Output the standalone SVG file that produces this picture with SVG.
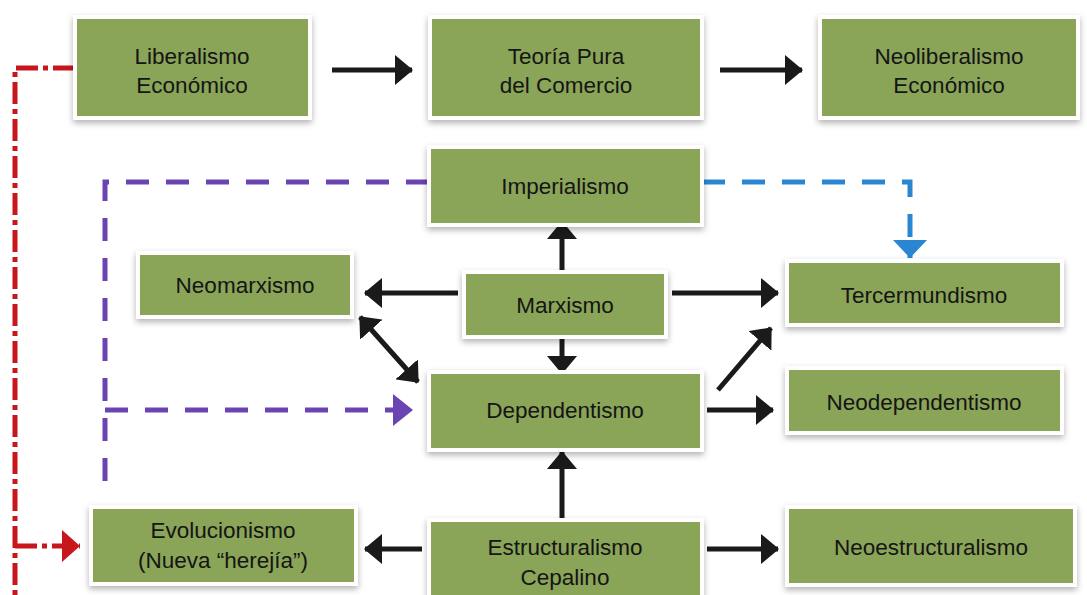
<svg xmlns="http://www.w3.org/2000/svg" width="1087" height="595" viewBox="0 0 1087 595">
<defs>
<style>
.box{fill:#8aa458;stroke:#ffffff;stroke-width:4;filter:url(#sh)}
.t{font-family:"Liberation Sans",Arial,sans-serif;font-size:22.5px;fill:#151515;text-anchor:middle}
.k{stroke:#1a1a1a;stroke-width:5;fill:none}
.red{stroke:#c8161d;stroke-width:5;fill:none;stroke-dasharray:22 5 5 5}
.pur{stroke:#6a44b0;stroke-width:5;fill:none;stroke-dasharray:23 17}
.blu{stroke:#2b86d2;stroke-width:5;fill:none;stroke-dasharray:23 17}
</style>
<filter id="sh" x="-10%" y="-20%" width="120%" height="150%">
<feDropShadow dx="0" dy="3" stdDeviation="3" flood-color="#000" flood-opacity="0.3"/>
</filter>
<marker id="ak" markerUnits="userSpaceOnUse" markerWidth="18" markerHeight="30" refX="17" refY="15" orient="auto-start-reverse"><path d="M0,0 L18,15 L0,30 z" fill="#1a1a1a"/></marker>
<marker id="ar" markerUnits="userSpaceOnUse" markerWidth="18" markerHeight="32" refX="18" refY="16" orient="auto"><path d="M0,0 L18,16 L0,32 z" fill="#c8161d"/></marker>
<marker id="ap" markerUnits="userSpaceOnUse" markerWidth="20" markerHeight="32" refX="20" refY="16" orient="auto"><path d="M0,0 L20,16 L0,32 z" fill="#6a44b0"/></marker>
<marker id="ab" markerUnits="userSpaceOnUse" markerWidth="18" markerHeight="34" refX="18" refY="17" orient="auto"><path d="M0,0 L18,17 L0,34 z" fill="#2b86d2"/></marker>
</defs>
<rect width="1087" height="595" fill="#ffffff"/>
<g id="connectors">
<path class="red" d="M75,68 H15 V595"/>
<path class="red" d="M15,546 H80" marker-end="url(#ar)"/>
<path class="pur" d="M429,182 H105 V492"/>
<path class="pur" d="M105,410 H413" marker-end="url(#ap)"/>
<path class="blu" d="M702,182 H910 V258" marker-end="url(#ab)"/>
<path class="k" d="M332,70 H412" marker-end="url(#ak)"/>
<path class="k" d="M720,70 H802" marker-end="url(#ak)"/>
<path class="k" d="M562,286 V222" marker-end="url(#ak)"/>
<path class="k" d="M458,293 H365" marker-end="url(#ak)"/>
<path class="k" d="M672,293 H778" marker-end="url(#ak)"/>
<path class="k" d="M562,327 V373" marker-end="url(#ak)"/>
<path class="k" d="M360,317 L418,382" marker-start="url(#ak)" marker-end="url(#ak)"/>
<path class="k" d="M718,390 L771,328" marker-end="url(#ak)"/>
<path class="k" d="M707,410 H773" marker-end="url(#ak)"/>
<path class="k" d="M562,522 V452" marker-end="url(#ak)"/>
<path class="k" d="M422,549 H365" marker-end="url(#ak)"/>
<path class="k" d="M707,549 H778" marker-end="url(#ak)"/>
</g>
<g id="liberalismo"><rect class="box" x="75" y="17" width="235" height="101"/><text class="t" x="192" y="64">Liberalismo</text><text class="t" x="192" y="93">Económico</text></g>
<g id="teoria"><rect class="box" x="430" y="17" width="272" height="101"/><text class="t" x="566" y="64">Teoría Pura</text><text class="t" x="566" y="93">del Comercio</text></g>
<g id="neoliberalismo"><rect class="box" x="820" y="17" width="258" height="101"/><text class="t" x="949" y="64">Neoliberalismo</text><text class="t" x="949" y="93">Económico</text></g>
<g id="imperialismo"><rect class="box" x="429" y="147" width="273" height="78"/><text class="t" x="565" y="194">Imperialismo</text></g>
<g id="neomarxismo"><rect class="box" x="138" y="253" width="214" height="64"/><text class="t" x="245" y="293">Neomarxismo</text></g>
<g id="marxismo"><rect class="box" x="464" y="272" width="202" height="65"/><text class="t" x="565" y="313">Marxismo</text></g>
<g id="tercermundismo"><rect class="box" x="787" y="261" width="275" height="64"/><text class="t" x="924" y="303">Tercermundismo</text></g>
<g id="dependentismo"><rect class="box" x="429" y="372" width="273" height="78"/><text class="t" x="565" y="418">Dependentismo</text></g>
<g id="neodependentismo"><rect class="box" x="787" y="368" width="275" height="65"/><text class="t" x="924" y="410">Neodependentismo</text></g>
<g id="evolucionismo"><rect class="box" x="91" y="507" width="265" height="77"/><text class="t" x="223" y="538">Evolucionismo</text><text class="t" x="223" y="568">(Nueva “herejía”)</text></g>
<g id="estructuralismo"><rect class="box" x="429" y="520" width="273" height="85"/><text class="t" x="565" y="555">Estructuralismo</text><text class="t" x="565" y="585">Cepalino</text></g>
<g id="neoestructuralismo"><rect class="box" x="787" y="507" width="288" height="78"/><text class="t" x="931" y="555">Neoestructuralismo</text></g>
</svg>
